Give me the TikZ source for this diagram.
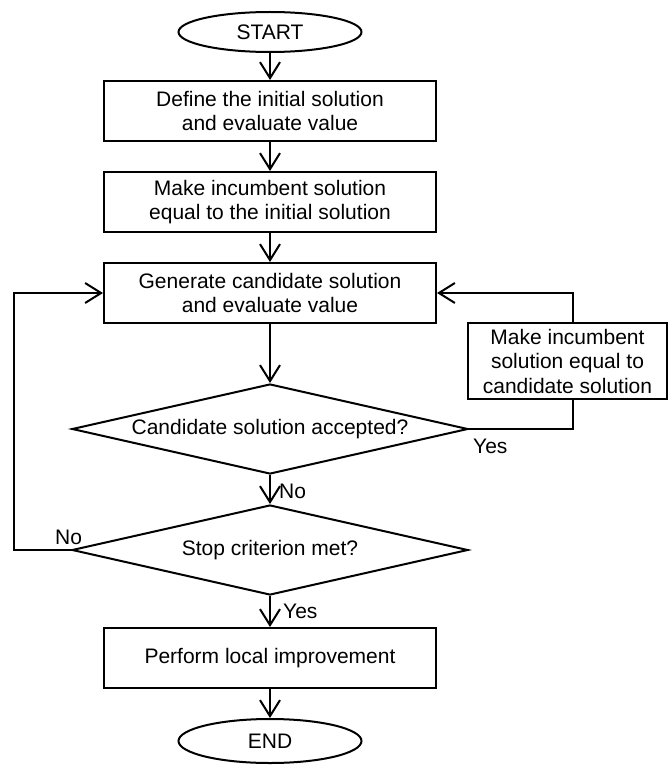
\documentclass[tikz,border=0pt]{standalone}
\usepackage{fontspec}
\setmainfont{Liberation Sans}
\usetikzlibrary{shapes.geometric,arrows.meta}

\begin{document}
\begin{tikzpicture}[x=1pt,y=-1pt,
  every node/.style={font=\fontsize{21}{24.5}\selectfont},
  proc/.style={draw, line width=2pt, rectangle, minimum width=332pt,
    minimum height=60pt, align=center, inner sep=0pt},
  term/.style={draw, line width=2pt, ellipse, minimum width=183pt,
    minimum height=40pt, inner sep=0pt},
  dec/.style={draw, line width=2pt, diamond, shape aspect=4.4,
    minimum width=396pt, minimum height=90pt, inner sep=0pt},
  conn/.style={line width=2pt, -{Straight Barb[length=16pt,width=20pt]}},
  link/.style={line width=2pt},
  lbl/.style={anchor=base west, inner sep=0pt}]

  \path[use as bounding box, clip] (0,0) rectangle (668,765);

  % main column
  \node[term] (start) at (270,32) {START};
  \node[proc] (def) at (270,111) {Define the initial solution\\and evaluate value};
  \node[proc] (inc) at (270,202) {Make incumbent solution\\equal to the initial solution};
  \node[proc] (gen) at (270,293) {Generate candidate solution\\and evaluate value};
  \node[dec] (acc) at (270,429) {Candidate solution accepted?};
  \node[dec] (stop) at (270,550) {Stop criterion met?};
  \node[proc] (imp) at (270,658) {Perform local improvement};
  \node[term, minimum height=44pt] (end) at (270,741) {END};

  % update box on the right
  \node[proc, minimum width=199pt, minimum height=76pt] (upd) at (567.5,361)
    {Make incumbent\\solution equal to\\candidate solution};

  % straight flow
  \draw[conn] (start) -- (def);
  \draw[conn] (def) -- (inc);
  \draw[conn] (inc) -- (gen);
  \draw[conn] (gen) -- (acc);
  \draw[conn] (acc) -- (stop);
  \draw[conn] (stop) -- (imp);
  \draw[conn] (imp) -- (end);

  % accepted: update incumbent and loop back
  \coordinate (rx) at (573,0);
  \draw[link] (acc.east) -| (rx |- upd.south);
  \draw[conn] (rx |- upd.north) |- (gen.east);

  % not stopped: loop back on the left
  \coordinate (lx) at (14,0);
  \draw[conn] (stop.west) -- (lx |- stop.west) |- (gen.west);

  % branch labels
  \node[lbl] (yes1) at (473,453) {Yes};
  \node[lbl] (no1) at (279,498) {No};
  \node[lbl] (no2) at (55,544) {No};
  \node[lbl] (yes2) at (283,618) {Yes};
\end{tikzpicture}
\end{document}
